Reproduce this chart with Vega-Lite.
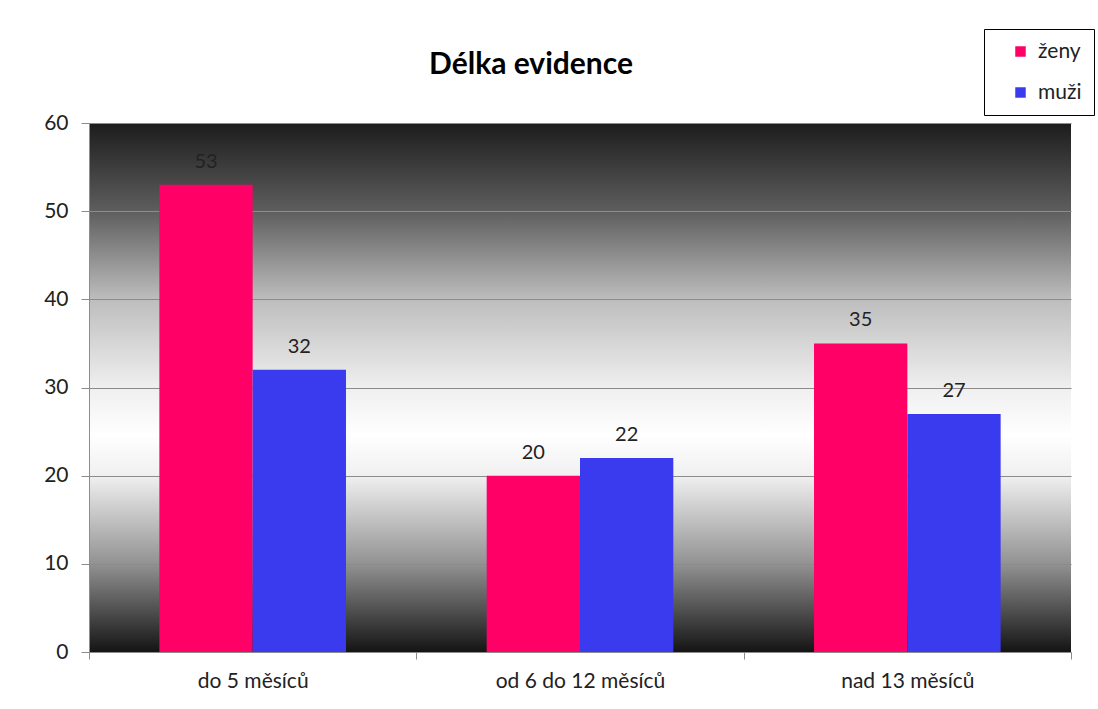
{
  "$schema": "https://vega.github.io/schema/vega-lite/v6.json",
  "autosize": "none",
  "width": 982,
  "height": 529,
  "padding": {"left": 89, "top": 123, "right": 27, "bottom": 57},
  "background": "white",
  "title": {
    "text": "Délka evidence",
    "font": "Lato",
    "fontSize": 30,
    "fontWeight": "bold",
    "color": "#000000",
    "anchor": "middle",
    "dx": -49,
    "offset": -51
  },
  "config": {
    "font": "Lato",
    "view": {
      "stroke": null,
      "fill": {
        "gradient": "linear",
        "x1": 0, "y1": 0, "x2": 0, "y2": 1,
        "stops": [
          {"offset": 0, "color": "#1c1c1c"},
          {"offset": 0.167, "color": "#5e5e5e"},
          {"offset": 0.333, "color": "#bdbdbd"},
          {"offset": 0.5, "color": "#efefef"},
          {"offset": 0.59, "color": "#ffffff"},
          {"offset": 0.667, "color": "#f0f0f0"},
          {"offset": 0.833, "color": "#929292"},
          {"offset": 1, "color": "#141414"}
        ]
      }
    }
  },
  "data": {
    "values": [
      {"kategorie": "do 5 měsíců", "pohlavi": "ženy", "pocet": 53},
      {"kategorie": "do 5 měsíců", "pohlavi": "muži", "pocet": 32},
      {"kategorie": "od 6 do 12 měsíců", "pohlavi": "ženy", "pocet": 20},
      {"kategorie": "od 6 do 12 měsíců", "pohlavi": "muži", "pocet": 22},
      {"kategorie": "nad 13 měsíců", "pohlavi": "ženy", "pocet": 35},
      {"kategorie": "nad 13 měsíců", "pohlavi": "muži", "pocet": 27}
    ]
  },
  "encoding": {
    "x": {
      "field": "kategorie",
      "type": "nominal",
      "sort": ["do 5 měsíců", "od 6 do 12 měsíců", "nad 13 měsíců"],
      "scale": {"paddingInner": 0, "paddingOuter": 0},
      "axis": {
        "title": null,
        "labelAngle": 0,
        "labelFontSize": 21,
        "labelColor": "#222222",
        "labelPadding": 11,
        "tickBand": "extent",
        "tickSize": 7,
        "tickColor": "#8c8c8c",
        "domainColor": "#8c8c8c",
        "grid": false
      }
    },
    "xOffset": {
      "field": "pohlavi",
      "type": "nominal",
      "sort": ["ženy", "muži"],
      "scale": {"paddingInner": 0, "paddingOuter": 0.754}
    },
    "y": {
      "field": "pocet",
      "type": "quantitative",
      "scale": {"domain": [0, 60], "nice": false},
      "axis": {
        "title": null,
        "values": [0, 10, 20, 30, 40, 50, 60],
        "labelFontSize": 21,
        "labelColor": "#222222",
        "labelPadding": 13,
        "tickSize": 8,
        "tickColor": "#8c8c8c",
        "domainColor": "#8c8c8c",
        "gridColor": "#8c8c8c",
        "gridWidth": 1.2
      }
    }
  },
  "layer": [
    {
      "mark": {"type": "bar"},
      "encoding": {
        "color": {
          "field": "pohlavi",
          "type": "nominal",
          "sort": ["ženy", "muži"],
          "scale": {"domain": ["ženy", "muži"], "range": ["#ff0066", "#3a3aee"]},
          "legend": {
            "title": null,
            "orient": "none",
            "legendX": 895,
            "legendY": -94,
            "padding": 12,
            "strokeColor": "#000000",
            "fillColor": "#ffffff",
            "symbolType": "square",
            "symbolSize": 110,
            "symbolStrokeWidth": 0,
            "symbolOffset": 14,
            "labelOffset": 7,
            "labelFontSize": 21,
            "labelColor": "#222222",
            "rowPadding": 19
          }
        }
      }
    },
    {
      "mark": {"type": "text", "baseline": "alphabetic", "dy": -17, "fontSize": 20, "color": "#222222"},
      "encoding": {
        "text": {"field": "pocet", "type": "quantitative"}
      }
    }
  ]
}
